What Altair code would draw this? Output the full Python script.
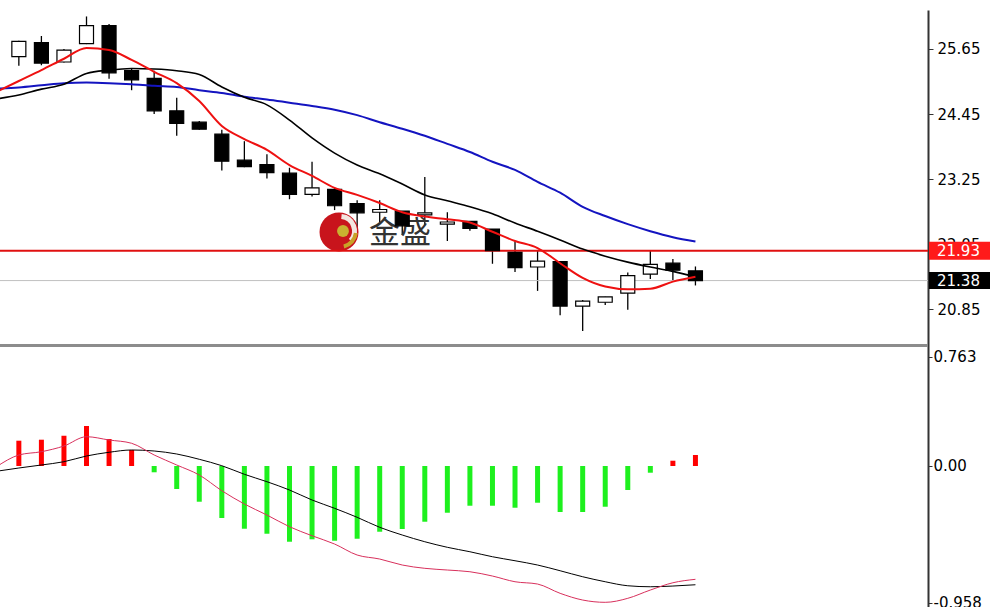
import altair as alt
import pandas as pd

# ---------------- daily candles (bar index 1..31) ----------------
bar_index = list(range(1, 32))
open_px = [25.51, 25.77, 25.41, 25.75, 26.08, 25.25, 25.11, 24.51, 24.30, 24.08,
           23.60, 23.52, 23.36, 22.97, 23.06, 22.80, 22.64, 22.66, 22.59, 22.42,
           22.47, 22.33, 21.90, 21.63, 21.73, 20.91, 20.98, 21.15, 21.50, 21.70, 21.56]
high_px = [25.80, 25.89, 25.65, 26.25, 26.11, 25.30, 25.25, 24.75, 24.32, 24.16,
           23.95, 23.71, 23.46, 23.57, 23.09, 22.86, 22.86, 22.66, 23.29, 22.64,
           22.48, 22.33, 22.10, 21.94, 21.74, 21.02, 21.08, 21.53, 21.94, 21.78, 21.64]
low_px = [25.34, 25.35, 25.40, 25.74, 25.10, 24.89, 24.45, 24.05, 24.16, 23.41,
          23.47, 23.26, 22.88, 22.93, 22.68, 22.35, 22.46, 22.22, 22.40, 22.11,
          22.30, 21.69, 21.54, 21.19, 20.74, 20.45, 20.93, 20.84, 21.41, 21.39, 21.29]
close_px = [25.79, 25.39, 25.63, 26.08, 25.21, 25.08, 24.51, 24.28, 24.17, 23.58,
            23.48, 23.37, 22.97, 23.09, 22.76, 22.63, 22.69, 22.39, 22.63, 22.46,
            22.34, 21.93, 21.62, 21.74, 20.91, 21.00, 21.08, 21.47, 21.68, 21.57, 21.38]

# ---------------- moving averages (index 0 lies just left of the view) ----------------
ma_index = list(range(0, 32))
ma_fast = [24.86, 25.06, 25.26, 25.47, 25.67, 25.63, 25.45, 25.23, 25.02, 24.69,
           24.23, 23.99, 23.79, 23.51, 23.31, 23.09, 22.96, 22.81, 22.64, 22.56,
           22.51, 22.45, 22.28, 22.11, 21.98, 21.70, 21.43, 21.27, 21.22, 21.23,
           21.36, 21.45]
ma_mid = [24.73, 24.80, 24.91, 25.00, 25.20, 25.26, 25.29, 25.28, 25.25, 25.18,
          24.95, 24.76, 24.62, 24.34, 24.01, 23.73, 23.51, 23.35, 23.16, 22.96,
          22.85, 22.74, 22.61, 22.44, 22.29, 22.13, 21.96, 21.83, 21.72, 21.63,
          21.55, 21.45]
ma_slow = [24.92, 24.94, 24.98, 25.02, 25.03, 25.02, 25.00, 24.97, 24.95, 24.89,
           24.84, 24.77, 24.72, 24.66, 24.60, 24.53, 24.43, 24.30, 24.18, 24.05,
           23.90, 23.75, 23.57, 23.42, 23.20, 23.00, 22.74, 22.57, 22.42, 22.29,
           22.18, 22.10]

# ---------------- MACD ----------------
macd_dif = [-0.006, 0.077, 0.100, 0.140, 0.205, 0.182, 0.159, 0.077, 0.007, -0.063,
            -0.173, -0.266, -0.343, -0.425, -0.488, -0.546, -0.623, -0.651, -0.693, -0.716,
            -0.728, -0.740, -0.770, -0.810, -0.826, -0.891, -0.938, -0.954, -0.926, -0.868,
            -0.817, -0.793]
macd_dea = [-0.037, -0.014, 0.007, 0.030, 0.070, 0.096, 0.112, 0.105, 0.084, 0.047,
            0.002, -0.058, -0.110, -0.168, -0.238, -0.296, -0.359, -0.429, -0.483, -0.530,
            -0.569, -0.600, -0.635, -0.663, -0.693, -0.733, -0.775, -0.810, -0.838, -0.845,
            -0.840, -0.831]
macd_hist = [0.177, 0.184, 0.212, 0.280, 0.189, 0.112, -0.044, -0.161, -0.250, -0.364,
             -0.439, -0.474, -0.530, -0.513, -0.523, -0.509, -0.460, -0.441, -0.390, -0.327,
             -0.278, -0.278, -0.292, -0.257, -0.322, -0.322, -0.285, -0.168, -0.047, 0.037,
             0.077]

resistance_level = [21.93]
last_price = [21.38]

price_ticks = [25.65, 24.45, 23.25, 22.05, 20.85]
macd_ticks = [0.763, 0.0, -0.958]

# ---------------- tables ----------------
candles = pd.DataFrame({"i": bar_index, "open": open_px, "high": high_px,
                        "low": low_px, "close": close_px})
candles["body_top"] = candles[["open", "close"]].max(axis=1)
candles["body_bot"] = candles[["open", "close"]].min(axis=1)
candles["rising"] = candles["close"] > candles["open"]

ma = pd.DataFrame({"i": ma_index, "fast": ma_fast, "mid": ma_mid, "slow": ma_slow})
macd_lines = pd.DataFrame({"i": ma_index, "dif": macd_dif, "dea": macd_dea})
hist = pd.DataFrame({"i": bar_index, "h": macd_hist, "base": [0.0] * len(bar_index)})
res_df = pd.DataFrame({"price": resistance_level})
last_df = pd.DataFrame({"price": last_price})
one = pd.DataFrame({"k": [0]})

FONT = "DejaVu Sans"
PLOT_W = 928
PLOT_H = 597
PANEL_SPLIT = 335.5   # separator between price pane and MACD pane (view pixels)

# one shared x scale; the two panes stack inside one view through two y scales
x_scale = alt.Scale(domain=[0.386, 41.09], nice=False, zero=False)
price_scale = alt.Scale(domain=[15.361, 26.369], nice=False, zero=False)
macd_scale = alt.Scale(domain=[-0.9867, 3.191], nice=False, zero=False)

price_axis = alt.Axis(orient="right", values=price_ticks, format=".2f", title=None,
                      grid=False, domainColor="#333333", domainWidth=2,
                      tickColor="#333333", tickSize=5, labelFont=FONT,
                      labelFontSize=15, labelColor="black", labelPadding=4)
macd_axis = alt.Axis(orient="right", values=macd_ticks, title=None, grid=False,
                     labelExpr="datum.value == 0 ? '0.00' : (datum.value < 0 ? '-' + format(-datum.value, '.3f') : format(datum.value, '.3f'))",
                     domain=False, tickColor="#333333",
                     tickSize=4, labelFont=FONT, labelFontSize=15,
                     labelColor="black", labelPadding=1)

x_enc = alt.X("i:Q", scale=x_scale, axis=None)

# ---------------- watermark ----------------
logo_ball = alt.Chart(one).mark_point(filled=True, shape="circle", size=1521,
                                      color="#c8141c", opacity=1).encode(
    x=alt.value(339), y=alt.value(222))
logo_swirl = alt.Chart(one).mark_arc(color="#f3e6e0", radius=17, radius2=12,
                                     theta=0.1, theta2=2.3).encode(
    x=alt.value(340), y=alt.value(221))
logo_gold = alt.Chart(one).mark_arc(color="#c9a227", radius=18, radius2=14,
                                    theta=1.7, theta2=2.9).encode(
    x=alt.value(340), y=alt.value(221))
logo_dot = alt.Chart(one).mark_point(filled=True, shape="circle", size=140,
                                     color="#c9b030", opacity=1).encode(
    x=alt.value(343), y=alt.value(221))
logo_text = alt.Chart(one).mark_text(text="金盛", font="Noto Sans CJK SC", fontSize=31,
                                     color="#333333", align="left",
                                     baseline="middle").encode(
    x=alt.value(369), y=alt.value(224))

# ---------------- price pane ----------------
wicks = alt.Chart(candles).mark_rule(color="black", strokeWidth=1.3).encode(
    x=x_enc,
    y=alt.Y("low:Q", scale=price_scale, axis=price_axis),
    y2="high:Q",
)
bodies = alt.Chart(candles).mark_bar(width=14, stroke="black", strokeWidth=1.2).encode(
    x="i:Q",
    y="body_top:Q",
    y2="body_bot:Q",
    fill=alt.condition("datum.rising", alt.value("white"), alt.value("black")),
)
line_slow = alt.Chart(ma).mark_line(color="#1414c0", strokeWidth=2, clip=True,
                                    interpolate="monotone").encode(x="i:Q", y="slow:Q")
line_mid = alt.Chart(ma).mark_line(color="black", strokeWidth=1.6, clip=True,
                                   interpolate="monotone").encode(x="i:Q", y="mid:Q")
line_fast = alt.Chart(ma).mark_line(color="#ee1111", strokeWidth=2, clip=True,
                                    interpolate="monotone").encode(x="i:Q", y="fast:Q")

res_line = alt.Chart(res_df).mark_rule(color="#e01010", strokeWidth=2).encode(
    y="price:Q", x=alt.value(0), x2=alt.value(PLOT_W))
last_line = alt.Chart(last_df).mark_rule(color="#c0c0c0", strokeWidth=1).encode(
    y="price:Q", x=alt.value(0), x2=alt.value(PLOT_W))

res_tag = alt.Chart(res_df).mark_rule(color="#ff1a1a", strokeWidth=18).encode(
    y="price:Q", x=alt.value(PLOT_W + 1), x2=alt.value(995))
res_txt = alt.Chart(res_df).mark_text(color="white", font=FONT, fontSize=15,
                                      align="left", baseline="middle").encode(
    y="price:Q", x=alt.value(PLOT_W + 9), text=alt.Text("price:Q", format=".2f"))
last_tag = alt.Chart(last_df).mark_rule(color="black", strokeWidth=17).encode(
    y="price:Q", x=alt.value(PLOT_W + 1), x2=alt.value(995))
last_txt = alt.Chart(last_df).mark_text(color="white", font=FONT, fontSize=15,
                                        align="left", baseline="middle").encode(
    y="price:Q", x=alt.value(PLOT_W + 9), text=alt.Text("price:Q", format=".2f"))

separator = alt.Chart(one).mark_rule(color="#8c8c8c", strokeWidth=3).encode(
    y=alt.value(PANEL_SPLIT), x=alt.value(0), x2=alt.value(PLOT_W))

price_pane = alt.layer(
    wicks, logo_ball, logo_swirl, logo_gold, logo_dot, logo_text,
    res_line, last_line, bodies, line_slow, line_mid, line_fast,
    res_tag, res_txt, last_tag, last_txt, separator,
)

# ---------------- MACD pane ----------------
hist_bars = alt.Chart(hist).mark_bar(width=5).encode(
    x=x_enc,
    y=alt.Y("h:Q", scale=macd_scale, axis=macd_axis),
    y2="base:Q",
    color=alt.condition("datum.h >= 0", alt.value("#ff0000"), alt.value("#1ef01e")),
)
dea_line = alt.Chart(macd_lines).mark_line(color="black", strokeWidth=1, clip=True,
                                           interpolate="monotone").encode(x="i:Q", y="dea:Q")
dif_line = alt.Chart(macd_lines).mark_line(color="#d8305c", strokeWidth=1, clip=True,
                                           interpolate="monotone").encode(x="i:Q", y="dif:Q")

macd_pane = alt.layer(hist_bars, dea_line, dif_line)

chart = alt.layer(price_pane, macd_pane).resolve_scale(y="independent").properties(
    width=PLOT_W,
    height=PLOT_H,
    padding={"top": 10, "left": 0, "right": 990 - PLOT_W, "bottom": 0},
    autosize=alt.AutoSizeParams(type="none"),
    background="white",
).configure_view(stroke=None)

chart.save("out.html", embed_options={"renderer": "svg", "actions": False})
